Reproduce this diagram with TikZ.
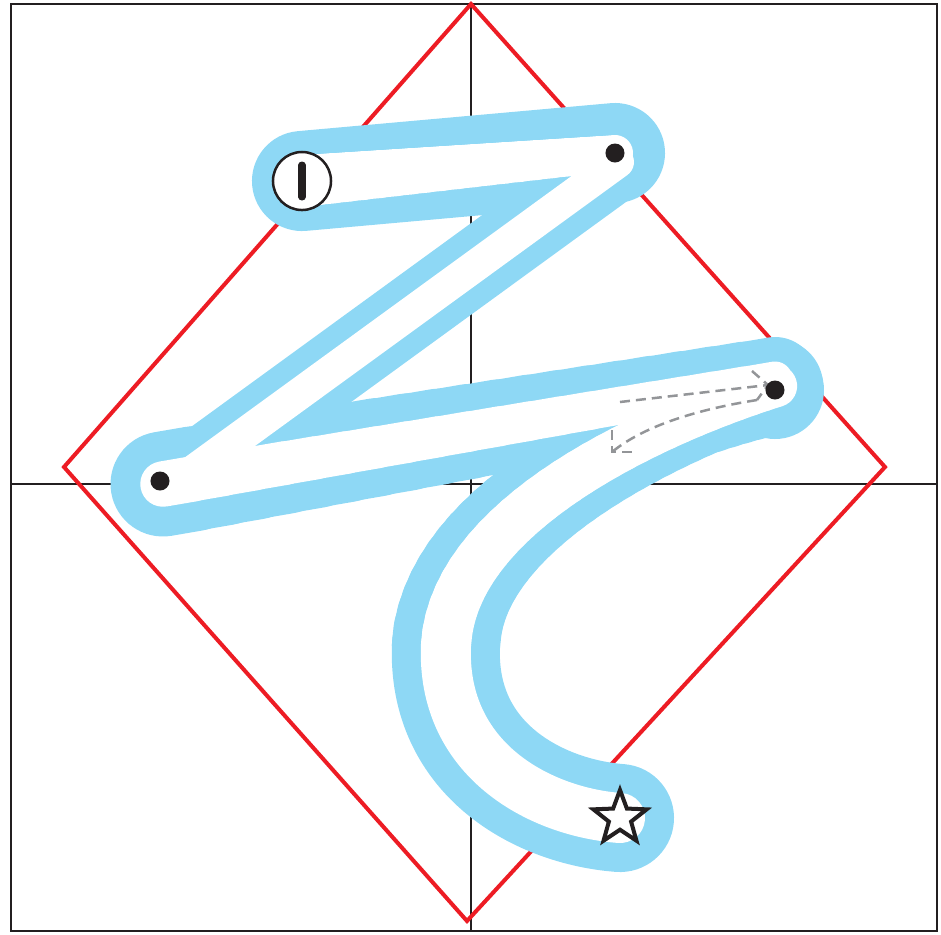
\documentclass[tikz,border=0pt]{standalone}
\usepackage{xcolor}
\usetikzlibrary{arrows.meta,positioning,calc,shapes.geometric}
\definecolor{zblue}{HTML}{8ED8F5}
\definecolor{zred}{HTML}{ED1C24}
\definecolor{zink}{HTML}{231F20}
\definecolor{zgray}{HTML}{939598}
\begin{document}
\begin{tikzpicture}[x=0.01cm,y=-0.01cm,
 grid/.style={draw=zink,line width=0.015cm},
 zouter/.style={draw=zblue,line cap=round,line join=round},
 zinner/.style={draw=white,line cap=round,line join=round},
 guide/.style={draw=zgray,line width=0.025cm,dash pattern=on 0.1cm off 0.06cm},
 dotmark/.style={circle,fill=zink,inner sep=0pt,minimum size=0.19cm}]
\useasboundingbox (0,0) rectangle (941,935);
% frame and axes
\draw[draw=zink,line width=0.022cm] (11,4) rectangle (937,931);
\draw[grid] (471,4) -- (471,931);
\draw[grid] (11,484) -- (937,484);
\draw[draw=zred,line width=0.04cm,line join=miter] (471,4) -- (885,467) -- (467,921) -- (64,467) -- cycle;
% letter stroke
\coordinate (a) at (302,181);
\coordinate (b) at (615,153);
\coordinate (b2) at (618,162);
\coordinate (c2) at (170,488);
\coordinate (c) at (163,484);
\coordinate (d) at (775,379);
\coordinate (d2) at (776,386);
\coordinate (k) at (446,645);
\coordinate (e) at (620,818);
% sample points: the bars thin to the right, the bend widens downwards
\path (a) -- (b) \foreach \i in {0,...,20}{coordinate[pos=\i/20] (t\i)};
\path (c) -- (d) \foreach \i in {0,...,20}{coordinate[pos=\i/20] (s\i)};
\path (d2) .. controls (651,424) and (453,515) .. (k)
  \foreach \i in {0,...,30}{coordinate[pos=\i/30] (r\i)};
% blue rim
\draw[zouter,line width=1cm] (a) -- (b);
\draw[zouter,line width=0.74cm] (b2) -- (c2);
\foreach \i in {1,...,20}{
  \pgfmathsetmacro\wd{1.06-0.22*\i/20}
  \pgfmathtruncatemacro\h{\i-1}
  \draw[zouter,line width=\wd cm] (s\h) -- (s\i);
}
\fill[zblue] (775,390) circle[radius=49];
\foreach \i in {1,...,30}{
  \pgfmathsetmacro\wd{0.8+0.28*\i/30+0.16*max(0,1-\i/6)}
  \pgfmathtruncatemacro\h{\i-1}
  \draw[zouter,line width=\wd cm] (r\h) -- (r\i);
}
\draw[zouter,line width=1.08cm] (k) .. controls (441,760) and (540,812) .. (e);
% white inside
\foreach \i in {1,...,20}{
  \pgfmathsetmacro\wd{0.52-0.16*\i/20}
  \pgfmathtruncatemacro\h{\i-1}
  \draw[zinner,line width=\wd cm] (t\h) -- (t\i);
}
\draw[zinner,line width=0.32cm] (b2) -- (c2);
\foreach \i in {1,...,20}{
  \pgfmathsetmacro\wd{0.46-0.11*\i/20}
  \pgfmathtruncatemacro\h{\i-1}
  \draw[zinner,line width=\wd cm] (s\h) -- (s\i);
}
\foreach \i in {1,...,30}{
  \pgfmathsetmacro\wd{0.42+0.08*\i/30}
  \pgfmathtruncatemacro\h{\i-1}
  \draw[zinner,line width=\wd cm] (r\h) -- (r\i);
}
\draw[zinner,line width=0.5cm] (k) .. controls (441,760) and (540,812) .. (e);
% direction guides
\coordinate (g1) at (620,402);
\coordinate (g2) at (768,385);
\coordinate (g3) at (757,400);
\coordinate (g4) at (612,452);
\draw[guide] (g1) -- (g2);
\draw[guide] (752,371) -- (g2) -- (g3);
\draw[guide] (g3) .. controls (700,409) and (645,425) .. (g4);
\draw[guide] (612,430) -- (g4) -- (635,452);
% marks
\node[dotmark] (p1) at (b) {};
\node[dotmark] (p2) at (160,481) {};
\node[dotmark] (p3) at (775,390) {};
\node[circle,draw=zink,fill=white,line width=0.025cm,minimum size=0.58cm,inner sep=0pt] (st) at (a) {};
\draw[zink,line width=0.07cm,line cap=round] ([yshift=0.16cm]st.center) -- ([yshift=-0.16cm]st.center);
\node[star,star points=5,star point ratio=2.4,draw=zink,fill=white,line width=0.04cm,minimum size=0.56cm,inner sep=0pt] (fin) at (e) {};
\end{tikzpicture}
\end{document}
